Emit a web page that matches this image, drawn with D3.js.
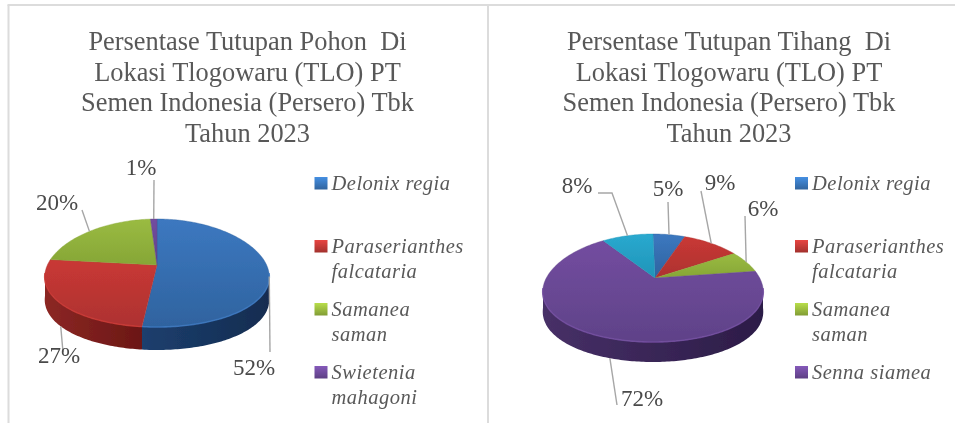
<!DOCTYPE html>
<html>
<head>
<meta charset="utf-8">
<script src="https://cdn.jsdelivr.net/npm/d3@7/dist/d3.min.js"></script>
<style>
html,body{margin:0;padding:0;background:#fff;overflow:hidden}
text{font-family:"Liberation Serif",serif}
</style>
</head>
<body>
<svg id="svg" width="958" height="423"></svg>
<script>
// values
var pohonNames = [["Delonix regia"],["Paraserianthes","falcataria"],["Samanea","saman"],["Swietenia","mahagoni"]];
var pohonValues = [52,27,20,1];
var pohonColors = ["blue","red","green","purple"];
var pohonTitle = ["Persentase Tutupan Pohon  Di","Lokasi Tlogowaru (TLO) PT","Semen Indonesia (Persero) Tbk","Tahun 2023"];

var tihangNames = [["Delonix regia"],["Paraserianthes","falcataria"],["Samanea","saman"],["Senna siamea"]];
var tihangValues = [5,9,6,72,8];
var tihangColors = ["blue","red","green","purple","cyan"];
var tihangTitle = ["Persentase Tutupan Tihang  Di","Lokasi Tlogowaru (TLO) PT","Semen Indonesia (Persero) Tbk","Tahun 2023"];

var shades = {
  blue:{top:"#3c78c0",bot:"#2f639f",wall1:"#1c3f6e",wall2:"#142c50",key:"#3a78bd"},
  red:{top:"#c93835",bot:"#ad3230",wall1:"#8c2724",wall2:"#6b1715",key:"#c23a36"},
  green:{top:"#9abb42",bot:"#86a636",wall1:"#5f7a25",wall2:"#4c631c",key:"#9aba3f"},
  purple:{top:"#734da0",bot:"#5f4288",wall1:"#473067",wall2:"#2c1c47",key:"#6f4b9c"},
  cyan:{top:"#2aa9cf",bot:"#1f94b8",wall1:"#176f8a",wall2:"#115a70",key:"#2aa9cf"}
};

var svg = d3.select("#svg");
var defs = svg.append("defs");
defs.append("filter").attr("id","soft").append("feGaussianBlur").attr("stdDeviation",0.7);
defs.append("filter").attr("id","softText").append("feGaussianBlur").attr("stdDeviation",0.4);

Object.keys(shades).forEach(function(k){
  var s = shades[k];
  var g = defs.append("linearGradient").attr("id","top-"+k).attr("x1",0).attr("y1",0).attr("x2",0).attr("y2",1);
  g.append("stop").attr("offset","0%").attr("stop-color",s.top);
  g.append("stop").attr("offset","100%").attr("stop-color",s.bot);
  var w = defs.append("linearGradient").attr("id","wall-"+k).attr("x1",0).attr("y1",0).attr("x2",1).attr("y2",0);
  w.append("stop").attr("offset","0%").attr("stop-color",s.wall1);
  w.append("stop").attr("offset","100%").attr("stop-color",s.wall2);
  var c = defs.append("linearGradient").attr("id","key-"+k).attr("x1",0).attr("y1",0).attr("x2",0).attr("y2",1);
  c.append("stop").attr("offset","0%").attr("stop-color",d3.color(s.key).brighter(0.5));
  c.append("stop").attr("offset","55%").attr("stop-color",s.key);
  c.append("stop").attr("offset","100%").attr("stop-color",d3.color(s.key).darker(0.5));
});

// panel borders
[[7.5,5,955,5],[8.5,5,8.5,423],[488,5,488,423]].forEach(function(b){
  svg.append("line").attr("x1",b[0]).attr("y1",b[1]).attr("x2",b[2]).attr("y2",b[3])
  .style("stroke","#dcdcdc").style("stroke-width",2);
});

var pie = d3.pie().sort(null).value(function(d){return d;});
var line = d3.line();
var PI = Math.PI;
var narrow = 0.07; // back of the pie looks narrower than the front

function drawChart(c){
  var slices = pie(c.values);
  var g = svg.append("g");

  function rim(a){
    return [c.cx + c.rx*Math.sin(a)*(1-narrow*Math.cos(a)), c.cy - c.ry*Math.cos(a)];
  }
  function arcPoints(a0,a1){
    var n = Math.max(2,Math.ceil((a1-a0)/0.02));
    return d3.range(n+1).map(function(i){ return rim(a0+(a1-a0)*i/n); });
  }

  // front wall first, only the part between 90 and 270 degrees shows
  var pieG = g.append("g").attr("filter","url(#soft)");
  slices.forEach(function(s,i){
    var a0 = Math.max(s.startAngle,PI/2), a1 = Math.min(s.endAngle,3*PI/2);
    if(a1<=a0) return;
    var upper = arcPoints(a0,a1);
    var lower = upper.slice().reverse().map(function(p){ return [p[0],p[1]+c.depth]; });
    pieG.append("path").attr("d",line(upper.concat(lower))+"Z")
    .style("fill","url(#wall-"+c.colors[i]+")");
  });
  // top face
  slices.forEach(function(s,i){
    var pts = [c.apex].concat(arcPoints(s.startAngle,s.endAngle));
    pieG.append("path").attr("d",line(pts)+"Z")
    .style("fill","url(#top-"+c.colors[i]+")")
    .style("stroke",shades[c.colors[i]].bot).style("stroke-width",0.4);
  });
  // light bevel on the front edge
  slices.forEach(function(s,i){
    var a0 = Math.max(s.startAngle,PI/2), a1 = Math.min(s.endAngle,3*PI/2);
    if(a1<=a0) return;
    pieG.append("path").attr("d",line(arcPoints(a0,a1)))
    .style("fill","none").style("stroke",shades[c.colors[i]].top)
    .style("stroke-width",1.6).style("opacity",0.8);
  });

  // leader lines start on the rim at the middle of each slice
  slices.forEach(function(s,i){
    var mid = (s.startAngle+s.endAngle)/2;
    var p = rim(mid);
    if(c.leaderFront[i]) p = [p[0],p[1]+c.depth];
    var pts = [p].concat(c.elbows[i]);
    g.append("path").attr("d",line(pts))
    .style("fill","none").style("stroke","#a6a6a6").style("stroke-width",1.4);
    g.append("text").attr("x",c.labels[i][0]).attr("y",c.labels[i][1])
    .attr("text-anchor","middle").attr("filter","url(#softText)")
    .style("font-size","23px").style("fill","#4a4a4a")
    .text(c.values[i]+"%");
  });

  // title
  c.title.forEach(function(t,i){
    g.append("text").attr("x",c.titleX).attr("y",50+i*30.6)
    .attr("text-anchor","middle").attr("filter","url(#softText)").attr("xml:space","preserve")
    .style("white-space","pre").style("font-size","26.4px").style("fill","#595959")
    .text(t);
  });

  // legend
  var legendY = [190,253,316,379];
  c.names.forEach(function(n,i){
    g.append("rect").attr("x",c.legendX).attr("y",legendY[i]-13).attr("width",13).attr("height",12.5)
    .attr("filter","url(#softText)")
    .style("fill","url(#key-"+c.legendColors[i]+")");
    n.forEach(function(t,j){
      g.append("text").attr("x",c.legendX+17).attr("y",legendY[i]+j*24.5)
      .attr("filter","url(#softText)")
      .style("font-size","20.5px").style("font-style","italic").style("letter-spacing","0.5px")
      .style("fill","#595959").text(t);
    });
  });
}

drawChart({
  values:pohonValues, colors:pohonColors, legendColors:pohonColors, names:pohonNames, title:pohonTitle,
  cx:157, cy:273, rx:112, ry:54, depth:23, apex:[157,265], titleX:247.5, legendX:314.5,
  leaderFront:[false,true,false,false],
  elbows:[[[270,352]],[[63,352]],[[82,210]],[[154,180]]],
  labels:[[254,375],[59,363],[57,210],[141,175]]
});
drawChart({
  values:tihangValues, colors:tihangColors, legendColors:["blue","red","green","purple"], names:tihangNames, title:tihangTitle,
  cx:653, cy:288, rx:110, ry:54, depth:20, apex:[655,278], titleX:729, legendX:795,
  leaderFront:[false,false,false,true,false],
  elbows:[[[668,202]],[[701,191]],[[745,216]],[[617,405]],[[612,193],[598,193]]],
  labels:[[668,196],[720,190],[763,216],[642,406],[577,193]]
});
</script>
</body>
</html>
